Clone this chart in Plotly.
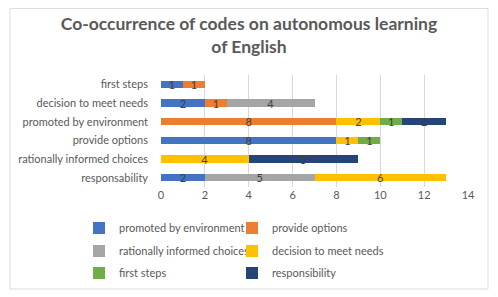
import plotly.graph_objects as go

categories = ["first steps", "decision to meet needs", "promoted by environment",
              "provide options", "rationally informed choices", "responsability"]

series_names = ["promoted by environment", "provide options", "rationally informed choices",
                "decision to meet needs", "first steps", "responsibility"]
promoted = [1, 2, None, 8, None, 2]
provide = [1, 1, 8, None, None, None]
rationally = [None, 4, None, None, None, 5]
decision = [None, None, 2, 1, 4, 6]
first_steps = [None, None, 1, 1, None, None]
responsibility = [None, None, 2, None, 5, None]
series_values = [promoted, provide, rationally, decision, first_steps, responsibility]
colors = ["#4472C4", "#ED7D31", "#A5A5A5", "#FFC000", "#70AD47", "#264478"]

x_ticks = [0, 2, 4, 6, 8, 10, 12, 14]

FONT = "Lato"
GREY = "#595959"

# the page body adds an 8px offset; size the figure so it fills the window
OFF = 8
W, H = 498 - OFF, 297 - OFF
L, R, T, B = 161 - OFF, 30, 75 - OFF, 110
pw, ph = W - L - R, H - T - B

def px_x(p):  # screen px -> paper x
    return (p - OFF - L) / pw

def px_y(p):  # screen px -> paper y
    return (H - B - (p - OFF)) / ph

# legend slots (screen px): legend left edges and row centres
leg_cols = [79, 232]
leg_rows = [228, 251, 273]
legend_ids = ["legend", "legend2", "legend3", "legend4", "legend5", "legend6"]

fig = go.Figure()
for name, vals, col, lg in zip(series_names, series_values, colors, legend_ids):
    fig.add_trace(go.Bar(
        y=categories, x=vals, name=name, orientation="h",
        marker=dict(color=col, line=dict(width=0)),
        text=[("" if v is None else str(v)) for v in vals],
        textposition="inside", insidetextanchor="middle", textangle=0,
        constraintext="none",
        insidetextfont=dict(family=FONT, size=11, color="#404040"),
        legend=lg,
    ))

leg_common = dict(orientation="h", xanchor="left", yanchor="middle",
                  bgcolor="rgba(0,0,0,0)", borderwidth=0,
                  font=dict(family=FONT, size=11, color=GREY), itemwidth=30)

legend_layout = {}
for i, lg in enumerate(legend_ids):
    r, c = divmod(i, 2)
    legend_layout[lg] = dict(x=px_x(leg_cols[c]), y=px_y(leg_rows[r]), **leg_common)

fig.update_layout(
    width=W, height=H,
    margin=dict(l=L, r=R, t=T, b=B, autoexpand=False),
    barmode="stack", bargap=0.6,
    paper_bgcolor="white", plot_bgcolor="white",
    font=dict(family=FONT, color=GREY),
    title=dict(text="<b>Co-occurrence of codes on autonomous learning<br>of English</b>",
               x=(249 - OFF) / W, xanchor="center", y=1 - 22 / H, yanchor="middle",
               yref="container",
               font=dict(family=FONT, size=17.5, color=GREY)),
    xaxis=dict(range=[0, 14], tickvals=x_ticks, showgrid=True, gridcolor="#D9D9D9",
               gridwidth=1, zeroline=False, showline=False, automargin=False,
               tickfont=dict(family=FONT, size=11, color=GREY)),
    yaxis=dict(autorange="reversed", showgrid=False, showline=False, ticks="",
               ticklabelstandoff=12, automargin=False,
               tickfont=dict(family=FONT, size=11, color=GREY)),
    showlegend=True,
    shapes=[dict(type="rect", xref="paper", yref="paper",
                 x0=px_x(10), x1=px_x(488), y0=px_y(289), y1=px_y(8.5),
                 line=dict(color="#DDDDDD", width=1), fillcolor="rgba(0,0,0,0)",
                 layer="above")],
    **legend_layout,
)

fig.write_html("out.html")
